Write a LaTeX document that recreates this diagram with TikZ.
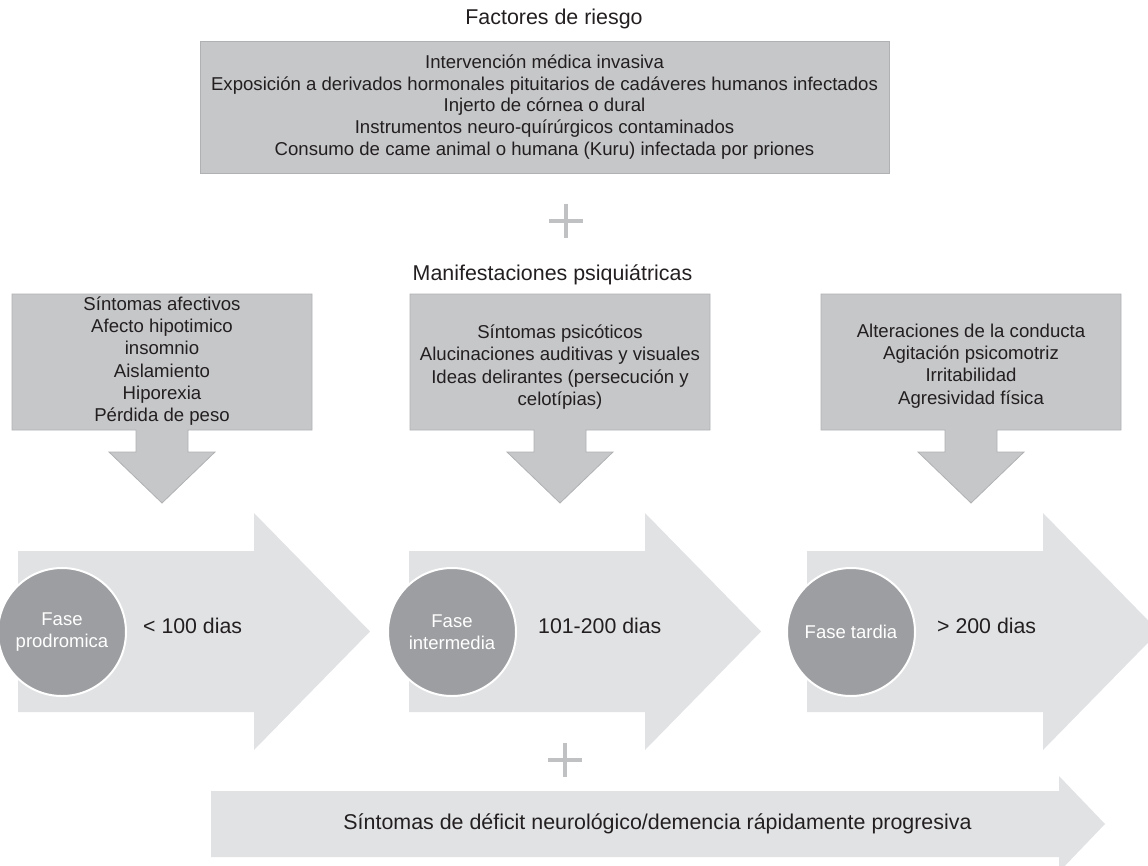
\documentclass[tikz,border=0pt]{standalone}
\usepackage{fontspec}
\setmainfont{Liberation Sans}
\usetikzlibrary{positioning}
\definecolor{boxgray}{RGB}{198,199,201}
\definecolor{boxline}{RGB}{176,177,179}
\definecolor{arrowgray}{RGB}{225,226,228}
\definecolor{circgray}{RGB}{157,158,161}
\definecolor{plusgray}{RGB}{192,193,195}
\definecolor{ink}{RGB}{35,31,32}
\tikzset{
    callout/.style={fill=boxgray, draw=boxline, line width=0.8pt}, % cajas con flecha hacia abajo
    bigarrow/.style={fill=arrowgray}, % flechas grandes de las fases
    phase/.style={circle, fill=circgray, draw=white, line width=2pt, minimum size=128pt, inner sep=0pt,
        text=white, align=center, font=\fontsize{18.5}{22}\selectfont},
    boxtext/.style={align=center, text=ink, font=\fontsize{18.6}{22.3}\selectfont},
    heading/.style={text=ink, font=\fontsize{21.4}{25}\selectfont},
    days/.style={text=ink, inner sep=0pt, font=\fontsize{21.3}{25}\selectfont},
    plus/.style={draw=plusgray, line width=4pt}
}

\begin{document}
\begin{tikzpicture}[x=1pt, y=-1pt]
    \useasboundingbox (0,0) rectangle (1148,865);
    \clip (0,0) rectangle (1148,865);

    % factores de riesgo
    \node[heading] (titulo) at (554,19) {Factores de riesgo};
    \node[boxtext, fill=boxgray, draw=boxline, line width=0.8pt, minimum width=689pt, minimum height=132pt,
        font=\fontsize{18.6}{21.6}\selectfont] (riesgo) at (544.5,107) {
        Intervención médica invasiva\\
        Exposición a derivados hormonales pituitarios de cadáveres humanos infectados\\
        Injerto de córnea o dural\\
        Instrumentos neuro-quírúrgicos contaminados\\
        Consumo de came animal o humana (Kuru) infectada por priones};

    \coordinate (mas1) at (566,220.5);
    \draw[plus] ([yshift=17pt]mas1) -- ([yshift=-17pt]mas1) ([xshift=-17pt]mas1) -- ([xshift=17pt]mas1);

    \node[heading] (manif) at (552.5,275) {Manifestaciones psiquiátricas};

    % cajas y flechas grandes
    \foreach \xc in {162,560,971} {
        \draw[callout] (\xc-150,294) -- (\xc+150,294) -- (\xc+150,430) -- (\xc+26,430) -- (\xc+26,452) -- (\xc+53,452)
            -- (\xc,503) -- (\xc-53,452) -- (\xc-26,452) -- (\xc-26,430) -- (\xc-150,430) -- cycle;
    }
    \foreach \xa in {18,409,807} {
        \fill[bigarrow] (\xa,551) -- (\xa+236,551) -- (\xa+236,513) -- (\xa+352,631.5) -- (\xa+236,750) -- (\xa+236,712) -- (\xa,712) -- cycle;
    }

    \node[boxtext] (afectivos) at (162,361) {Síntomas afectivos\\Afecto hipotimico\\insomnio\\Aislamiento\\Hiporexia\\Pérdida de peso};
    \node[boxtext] (psicoticos) at (560,367) {Síntomas psicóticos\\Alucinaciones auditivas y visuales\\Ideas delirantes (persecución y\\celotípias)};
    \node[boxtext] (conducta) at (971,366) {Alteraciones de la conducta\\Agitación psicomotriz\\Irritabilidad\\Agresividad física};

    % fases
    \node[phase] (fase1) at (62,632) {Fase\\prodromica};
    \node[phase] (fase2) at (452,632) {Fase\\intermedia};
    \node[phase] (fase3) at (851,632) {Fase tardia};
    \node[days, right=16pt of fase1, yshift=6pt] (dias1) {< 100 dias};
    \node[days, right=21pt of fase2, yshift=6pt] (dias2) {101-200 dias};
    \node[days, right=21pt of fase3, yshift=6pt] (dias3) {> 200 dias};

    \coordinate (mas2) at (565,759.5);
    \draw[plus] ([yshift=17pt]mas2) -- ([yshift=-17pt]mas2) ([xshift=-17pt]mas2) -- ([xshift=17pt]mas2);

    % deficit neurologico
    \fill[bigarrow] (211,791) -- (1059,791) -- (1059,776) -- (1105,824) -- (1059,872) -- (1059,857) -- (211,857) -- cycle;
    \node[heading] (deficit) at (657.5,824) {Síntomas de déficit neurológico/demencia rápidamente progresiva};
\end{tikzpicture}
\end{document}
